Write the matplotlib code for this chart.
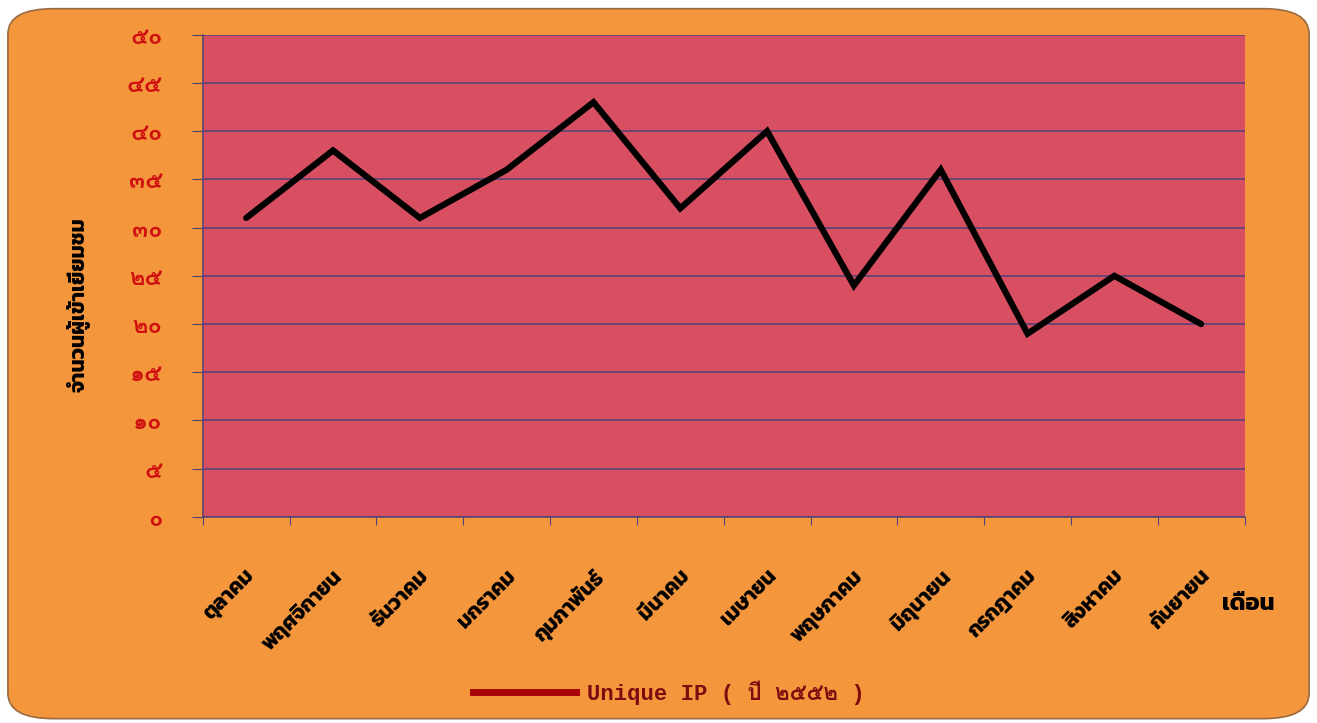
import matplotlib
matplotlib.use("Agg")
import matplotlib.pyplot as plt
from matplotlib.patches import FancyBboxPatch

# Monthly unique visitors, Oct 2551 - Sep 2552
months = ["ตุลาคม", "พฤศจิกายน", "ธันวาคม", "มกราคม", "กุมภาพันธ์", "มีนาคม",
          "เมษายน", "พฤษภาคม", "มิถุนายน", "กรกฎาคม", "สิงหาคม", "กันยายน"]
visitors = [31, 38, 31, 36, 43, 32, 40, 24, 36, 19, 25, 20]
y_ticks = [0, 5, 10, 15, 20, 25, 30, 35, 40, 45, 50]
y_tick_labels = ["๐", "๕", "๑๐", "๑๕", "๒๐", "๒๕", "๓๐", "๓๕", "๔๐", "๔๕", "๕๐"]
series_name = "Unique IP ( ปี ๒๕๕๒ )"

THAI = ["Kanit", "Noto Sans Thai", "DejaVu Sans"]
THAI_LOOPED = ["Loma", "Sarabun", "DejaVu Sans"]
MONO = ["Liberation Mono", "Loma", "DejaVu Sans Mono"]

orange = "#F4963C"
plot_red = "#D94F62"
grid_col = "#4E4278"

fig = plt.figure(figsize=(13.17, 7.23), dpi=100)
fig.patch.set_facecolor("white")
# rounded orange card behind everything
card = FancyBboxPatch((0.006, 0.006), 0.988, 0.982,
                      boxstyle="round,pad=0,rounding_size=0.035",
                      transform=fig.transFigure, facecolor=orange,
                      edgecolor="#9A6A40", linewidth=1.2, zorder=-5)
fig.patches.append(card)

ax = fig.add_axes([0.154, 0.285, 0.791, 0.667])
ax.set_zorder(2)
ax.set_facecolor(plot_red)
x = list(range(len(months)))
ax.plot(x, visitors, color="black", linewidth=4.5, solid_joinstyle="miter",
        solid_capstyle="round", zorder=3)

ax.set_xlim(-0.5, len(months) - 0.5)
ax.set_ylim(0, 50)
ax.set_yticks(y_ticks)
ax.set_yticklabels(y_tick_labels, family=THAI_LOOPED, fontsize=17,
                   fontweight="bold", color="#D01010")
ax.yaxis.grid(True, color=grid_col, linewidth=1.1)
ax.set_axisbelow(True)

# category ticks sit between months, labels centred under each month
ax.set_xticks([i - 0.5 for i in range(len(months) + 1)])
ax.set_xticklabels([])
ax.set_xticks(x, minor=True)
ax.set_xticklabels(months, minor=True, rotation=45, ha="right",
                   rotation_mode="anchor", family=THAI, fontsize=15,
                   fontweight="bold", color="black")
ax.tick_params(axis="x", which="minor", length=0, pad=36)
ax.tick_params(axis="x", which="major", length=6, color=grid_col, direction="out")
ax.tick_params(axis="y", length=8, color=grid_col, pad=21)

for side in ["top", "right"]:
    ax.spines[side].set_visible(False)
for side in ["left", "bottom"]:
    ax.spines[side].set_color(grid_col)
    ax.spines[side].set_linewidth(1.1)

ax.set_ylabel("จำนวนผู้เข้าเยี่ยมชม", family=THAI, fontsize=15,
              fontweight="bold", color="black")
ax.yaxis.set_label_coords(-0.108, 0.44)
fig.text(0.948, 0.165, "เดือน", family=THAI, fontsize=17, fontweight="bold",
         color="black", ha="center", va="center")

# legend drawn by matplotlib from a proxy handle
leg_line, = ax.plot([], [], color="#A8000A", linewidth=5)
leg = fig.legend([leg_line], [series_name], loc="center", bbox_to_anchor=(0.508, 0.042),
                 frameon=False, handlelength=4.6, handletextpad=0.5,
                 prop={"family": MONO, "size": 16, "weight": "bold"})
for t in leg.get_texts():
    t.set_color("#7E0B10")

fig.savefig("out.png", dpi=100, facecolor=fig.get_facecolor())
